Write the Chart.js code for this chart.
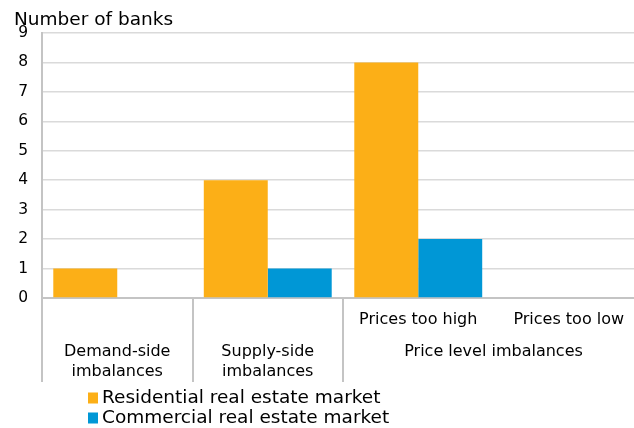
<!DOCTYPE html>
<html>
<head>
<meta charset="utf-8">
<script src="https://cdn.jsdelivr.net/npm/chart.js@4/dist/chart.umd.min.js"></script>
<style>
  html, body { margin: 0; padding: 0; background: #fff; overflow: hidden; }
  #wrap { position: relative; width: 644px; height: 428px; }
  #title { position: absolute; left: 14px; top: 8px; font: 18.5px "DejaVu Sans", Verdana, sans-serif; color: #000; }
  canvas { position: absolute; left: 0; top: 0; }
</style>
</head>
<body>
<div id="wrap">
  <canvas id="c" width="644" height="428"></canvas>
  <div id="title">Number of banks</div>
</div>
<script>
// Categories along the x axis (inner level) and their outer groups
const categories = ["Demand-side imbalances", "Supply-side imbalances", "Prices too high", "Prices too low"];
const innerLabels = ["", "", "Prices too high", "Prices too low"];
const groupLabels = [["Demand-side", "imbalances"], ["Supply-side", "imbalances"], ["Price level imbalances"]];
const groupSpans = [1, 1, 2];

// Series
const seriesNames = ["Residential real estate market", "Commercial real estate market"];
const residential = [1, 4, 8, 0];
const commercial = [0, 1, 2, 0];
const seriesColors = ["#FCAF17", "#0097D6"];

// Y axis ticks
const yTicks = [0, 1, 2, 3, 4, 5, 6, 7, 8, 9];

const FONT = '"DejaVu Sans", Verdana, sans-serif';
const lineGray = '#c4c4c4';

// Draws the two-level category labels, group separators and the legend
const categoryAxisPlugin = {
  id: 'categoryAxis',
  afterDraw(chart) {
    const ctx = chart.ctx;
    const xs = chart.scales.x;
    const area = chart.chartArea;
    const n = categories.length;
    const step = (area.right - area.left) / n;
    ctx.save();
    ctx.fillStyle = '#000';
    ctx.textAlign = 'center';
    ctx.textBaseline = 'middle';
    ctx.font = '16px ' + FONT;
    // inner labels
    innerLabels.forEach((lab, i) => {
      if (lab) ctx.fillText(lab, xs.getPixelForValue(i), area.bottom + 22);
    });
    // group labels and separators
    ctx.strokeStyle = lineGray;
    ctx.lineWidth = 2;
    let start = 0;
    const sepBottom = area.bottom + 84;
    groupLabels.forEach((lines, g) => {
      const span = groupSpans[g];
      const x0 = xs.getPixelForValue(start) - step / 2;
      const x1 = xs.getPixelForValue(start + span - 1) + step / 2;
      const cx = (x0 + x1) / 2;
      if (lines.length === 1) {
        ctx.fillText(lines[0], cx, area.bottom + 54);
      } else {
        lines.forEach((l, k) => ctx.fillText(l, cx, area.bottom + 54 + k * 20));
      }
      ctx.beginPath();
      ctx.moveTo(Math.round(x0), area.bottom);
      ctx.lineTo(Math.round(x0), sepBottom);
      ctx.stroke();
      start += span;
    });
    // legend
    ctx.textAlign = 'left';
    ctx.font = '18.5px ' + FONT;
    chart.data.datasets.forEach((ds, i) => {
      const y = 398 + i * 20;
      ctx.fillStyle = ds.backgroundColor;
      ctx.fillRect(88, y - 5.5, 10, 11);
      ctx.fillStyle = '#000';
      ctx.fillText(ds.label, 102, y);
    });
    ctx.restore();
  }
};

new Chart(document.getElementById('c'), {
  type: 'bar',
  data: {
    labels: categories,
    datasets: [
      { label: seriesNames[0], data: residential, backgroundColor: seriesColors[0] },
      { label: seriesNames[1], data: commercial, backgroundColor: seriesColors[1] }
    ]
  },
  options: {
    responsive: false,
    animation: false,
    layout: { padding: { top: 33, right: 0, left: 0, bottom: 0 } },
    plugins: { legend: { display: false }, tooltip: { enabled: false } },
    datasets: { bar: { categoryPercentage: 0.85, barPercentage: 1.0 } },
    scales: {
      x: {
        grid: { display: false },
        border: { display: true, color: lineGray, width: 2 },
        ticks: { display: false },
        afterFit(scale) { scale.height = 130; }
      },
      y: {
        min: yTicks[0],
        max: yTicks[yTicks.length - 1],
        grid: { color: '#dadada', lineWidth: 1.5, drawTicks: false },
        border: { display: true, color: lineGray, width: 2 },
        ticks: { stepSize: 1, padding: 14, color: '#000', font: { family: FONT, size: 15.5 } },
        afterFit(scale) { scale.width = 42; }
      }
    }
  },
  plugins: [categoryAxisPlugin]
});
</script>
</body>
</html>
